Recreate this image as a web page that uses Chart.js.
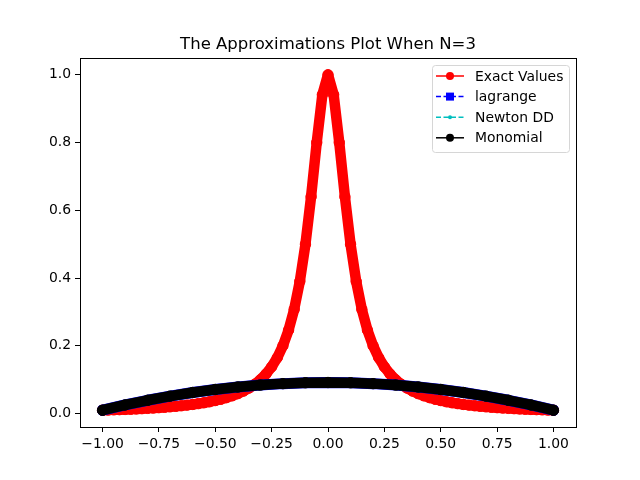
<!DOCTYPE html>
<html>
<head>
<meta charset="utf-8">
<script src="https://cdn.jsdelivr.net/npm/chart.js@4"></script>
<style>
  html, body { margin: 0; padding: 0; background: #fff; }
  canvas { display: block; }
</style>
</head>
<body>
<canvas id="approxChart" width="640" height="480"></canvas>
<script>
// Sample points of the exact curve
const xExact = [-1.000, -0.975, -0.950, -0.925, -0.900, -0.875, -0.850, -0.825, -0.800, -0.775,
    -0.750, -0.725, -0.700, -0.675, -0.650, -0.625, -0.600, -0.575, -0.550, -0.525,
    -0.500, -0.475, -0.450, -0.425, -0.400, -0.375, -0.350, -0.325, -0.300, -0.275,
    -0.250, -0.225, -0.200, -0.175, -0.150, -0.125, -0.100, -0.075, -0.050, -0.025,
    0.000,
    0.025, 0.050, 0.075, 0.100, 0.125, 0.150, 0.175, 0.200, 0.225, 0.250,
    0.275, 0.300, 0.325, 0.350, 0.375, 0.400, 0.425, 0.450, 0.475, 0.500,
    0.525, 0.550, 0.575, 0.600, 0.625, 0.650, 0.675, 0.700, 0.725, 0.750,
    0.775, 0.800, 0.825, 0.850, 0.875, 0.900, 0.925, 0.950, 0.975, 1.000];
const yExact = [0.0099, 0.0104, 0.0110, 0.0116, 0.0122, 0.0129, 0.0137, 0.0145, 0.0154, 0.0164,
    0.0175, 0.0187, 0.0200, 0.0215, 0.0231, 0.0250, 0.0270, 0.0294, 0.0320, 0.0350,
    0.0385, 0.0424, 0.0471, 0.0525, 0.0588, 0.0664, 0.0755, 0.0865, 0.1000, 0.1168,
    0.1379, 0.1649, 0.2000, 0.2462, 0.3077, 0.3902, 0.5000, 0.6400, 0.8000, 0.9412,
    1.0000,
    0.9412, 0.8000, 0.6400, 0.5000, 0.3902, 0.3077, 0.2462, 0.2000, 0.1649, 0.1379,
    0.1168, 0.1000, 0.0865, 0.0755, 0.0664, 0.0588, 0.0525, 0.0471, 0.0424, 0.0385,
    0.0350, 0.0320, 0.0294, 0.0270, 0.0250, 0.0231, 0.0215, 0.0200, 0.0187, 0.0175,
    0.0164, 0.0154, 0.0145, 0.0137, 0.0129, 0.0122, 0.0116, 0.0110, 0.0104, 0.0099];

// Sample points of the three approximations (they coincide)
const xApprox = [-1.0, -0.9, -0.8, -0.7, -0.6, -0.5, -0.4, -0.3, -0.2, -0.1, 0.0,
    0.1, 0.2, 0.3, 0.4, 0.5, 0.6, 0.7, 0.8, 0.9, 1.0];
const yLagrange = [0.0099, 0.0254, 0.0393, 0.0516, 0.0623, 0.0712, 0.0786, 0.0843, 0.0884, 0.0909, 0.0917,
    0.0909, 0.0884, 0.0843, 0.0786, 0.0712, 0.0623, 0.0516, 0.0393, 0.0254, 0.0099];
const yNewton = [0.0099, 0.0254, 0.0393, 0.0516, 0.0623, 0.0712, 0.0786, 0.0843, 0.0884, 0.0909, 0.0917,
    0.0909, 0.0884, 0.0843, 0.0786, 0.0712, 0.0623, 0.0516, 0.0393, 0.0254, 0.0099];
const yMonomial = [0.0099, 0.0254, 0.0393, 0.0516, 0.0623, 0.0712, 0.0786, 0.0843, 0.0884, 0.0909, 0.0917,
    0.0909, 0.0884, 0.0843, 0.0786, 0.0712, 0.0623, 0.0516, 0.0393, 0.0254, 0.0099];

const xTicks = [-1.00, -0.75, -0.50, -0.25, 0.00, 0.25, 0.50, 0.75, 1.00];
const yTicks = [0.0, 0.2, 0.4, 0.6, 0.8, 1.0];

const chartTitle = 'The Approximations Plot When N=3';

const FONT = 'DejaVu Sans';

function toPoints(xs, ys) {
    return xs.map((x, i) => ({ x: x, y: ys[i] }));
}
function fmtTick(v, digits) {
    return v.toFixed(digits).replace('-', '\u2212');
}

// legend entries: line style + marker like matplotlib
const legendItems = [
    { label: 'Exact Values', color: '#ff0000', dash: [], marker: 'circle', size: 4 },
    { label: 'lagrange', color: '#0000ff', dash: [5, 2.5], marker: 'square', size: 4 },
    { label: 'Newton DD', color: '#00bfbf', dash: [5, 2.5], marker: 'circle', size: 2 },
    { label: 'Monomial', color: '#000000', dash: [], marker: 'circle', size: 4 }
];

// frame, title and legend drawn by hand
const decorPlugin = {
    id: 'decor',
    afterDraw(chart) {
        const ctx = chart.ctx;
        const a = chart.chartArea;
        ctx.save();
        // axes box
        ctx.strokeStyle = '#000';
        ctx.lineWidth = 1;
        ctx.strokeRect(Math.round(a.left) + 0.5, Math.round(a.top) + 0.5,
            Math.round(a.right - a.left), Math.round(a.bottom - a.top));

        // title
        ctx.fillStyle = '#000';
        ctx.font = '16.5px "' + FONT + '"';
        ctx.textAlign = 'center';
        ctx.textBaseline = 'alphabetic';
        ctx.fillText(chartTitle, (a.left + a.right) / 2, 49);

        // legend
        const bx = 432, by = 65, bw = 137, bh = 87;
        ctx.beginPath();
        ctx.roundRect(bx + 0.5, by + 0.5, bw, bh, 3);
        ctx.fillStyle = 'rgba(255,255,255,0.8)';
        ctx.fill();
        ctx.strokeStyle = '#d6d6d6';
        ctx.lineWidth = 1;
        ctx.stroke();

        ctx.font = '13.9px "' + FONT + '"';
        ctx.textAlign = 'left';
        ctx.textBaseline = 'middle';
        legendItems.forEach((it, i) => {
            const cy = 76 + i * 20.6;
            ctx.strokeStyle = it.color;
            ctx.lineWidth = 1.5;
            ctx.setLineDash(it.dash);
            ctx.beginPath();
            ctx.moveTo(436, cy);
            ctx.lineTo(464, cy);
            ctx.stroke();
            ctx.setLineDash([]);
            ctx.fillStyle = it.color;
            ctx.beginPath();
            if (it.marker === 'square') {
                ctx.rect(450 - it.size, cy - it.size, it.size * 2, it.size * 2);
            } else {
                ctx.arc(450, cy, it.size, 0, Math.PI * 2);
            }
            ctx.fill();
            ctx.fillStyle = '#000';
            ctx.fillText(it.label, 475, cy + 1);
        });
        ctx.restore();
    }
};

const approxData = {
    datasets: [
        {
            label: 'Exact Values',
            data: toPoints(xExact, yExact),
            borderColor: '#ff0000',
            backgroundColor: '#ff0000',
            borderWidth: 10.5,
            pointRadius: 5.2,
            pointBorderWidth: 1,
            pointStyle: 'circle',
            showLine: true,
            order: 4
        },
        {
            label: 'lagrange',
            data: toPoints(xApprox, yLagrange),
            borderColor: '#0000ff',
            backgroundColor: '#0000ff',
            borderWidth: 11,
            pointRadius: 5.4,
            pointBorderWidth: 1,
            pointStyle: 'rect',
            showLine: true,
            order: 3
        },
        {
            label: 'Newton DD',
            data: toPoints(xApprox, yNewton),
            borderColor: '#00bfbf',
            backgroundColor: '#00bfbf',
            borderWidth: 1.5,
            borderDash: [4, 2.5],
            pointRadius: 2,
            pointBorderWidth: 0,
            showLine: true,
            order: 2
        },
        {
            label: 'Monomial',
            data: toPoints(xApprox, yMonomial),
            borderColor: '#000000',
            backgroundColor: '#000000',
            borderWidth: 10.5,
            pointRadius: 5.2,
            pointBorderWidth: 1,
            pointStyle: 'circle',
            showLine: true,
            order: 1
        }
    ]
};

const approxConfig = {
    type: 'scatter',
    data: approxData,
    options: {
        responsive: false,
        animation: false,
        devicePixelRatio: 1,
        layout: { padding: { left: 0, top: 58, right: 64, bottom: 0 } },
        plugins: {
            legend: { display: false },
            title: { display: false },
            tooltip: { enabled: false }
        },
        elements: {
            line: { borderCapStyle: 'round', borderJoinStyle: 'round', tension: 0 }
        },
        scales: {
            x: {
                type: 'linear',
                min: -1.1,
                max: 1.1,
                afterBuildTicks: (scale) => { scale.ticks = xTicks.map(v => ({ value: v })); },
                afterFit: (scale) => { scale.height = 53; },
                ticks: {
                    autoSkip: false,
                    maxRotation: 0,
                    color: '#000',
                    padding: 4,
                    font: { family: FONT, size: 13.9 },
                    callback: (v) => fmtTick(v, 2)
                },
                grid: { drawOnChartArea: false, drawTicks: true, tickLength: 5, color: '#000', lineWidth: 1 },
                border: { display: false }
            },
            y: {
                type: 'linear',
                min: -0.0396,
                max: 1.0495,
                afterBuildTicks: (scale) => { scale.ticks = yTicks.map(v => ({ value: v })); },
                afterFit: (scale) => { scale.width = 80; },
                ticks: {
                    autoSkip: false,
                    color: '#000',
                    padding: 4,
                    font: { family: FONT, size: 13.9 },
                    callback: (v) => fmtTick(v, 1)
                },
                grid: { drawOnChartArea: false, drawTicks: true, tickLength: 5, color: '#000', lineWidth: 1 },
                border: { display: false }
            }
        }
    },
    plugins: [decorPlugin]
};

window.onload = function() {
    const approxCtx = document.getElementById('approxChart').getContext('2d');
    new Chart(approxCtx, approxConfig);
};
</script>
</body>
</html>
